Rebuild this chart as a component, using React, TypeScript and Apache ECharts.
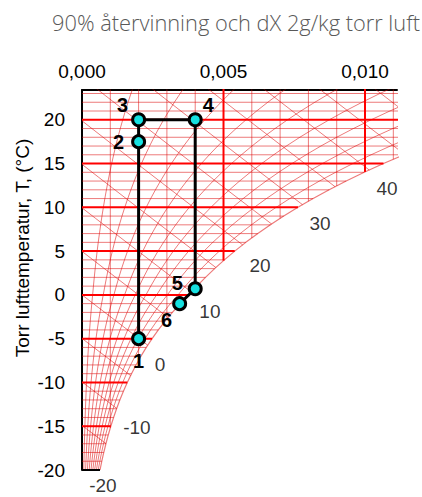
import React, { useEffect, useRef } from "react";
import * as echarts from "echarts";

// Saturation humidity ratio (kg/kg dry air) along the 100 % curve, per °C
const TEMPS = [-20, -19, -18, -17, -16, -15, -14, -13, -12, -11, -10, -9, -8, -7, -6, -5, -4, -3, -2, -1,
  0, 1, 2, 3, 4, 5, 6, 7, 8, 9, 10, 11, 12, 13, 14, 15, 16, 17, 18, 19, 20, 21, 22, 23, 24];
const SAT_X = [0.000636, 0.0007, 0.000769, 0.000845, 0.000927, 0.001018, 0.001116, 0.001222, 0.001337, 0.001463,
  0.0016, 0.001749, 0.001909, 0.002084, 0.002272, 0.002477, 0.002697, 0.002936, 0.003194, 0.003472,
  0.003775, 0.00406, 0.004363, 0.004686, 0.00503, 0.005397, 0.005788, 0.006212, 0.006657, 0.007128,
  0.007631, 0.008166, 0.008733, 0.009334, 0.009973, 0.010652, 0.01137, 0.012127, 0.012934, 0.013792,
  0.014698, 0.015657, 0.016672, 0.017742, 0.01888];

const RH_LEVELS = [0.1, 0.2, 0.3, 0.4, 0.5, 0.6, 0.7, 0.8, 0.9];
const ENTHALPY_LEVELS = [-20, -15, -10, -5, 0, 5, 10, 15, 20, 25, 30, 35, 40, 45, 50];
const MOISTURE_GRID = [0.001, 0.002, 0.003, 0.004, 0.005, 0.006, 0.007, 0.008, 0.009, 0.01, 0.011];
const THICK_TEMPS = [-15, -10, -5, 0, 5, 10, 15, 20];
const THICK_MOISTURE = [0.005, 0.01];

const ENTHALPY_LABEL_TEXT = ["40", "30", "20", "10", "0", "-10", "-20"];
const ENTHALPY_LABEL_X = [0.01078, 0.00841, 0.00629, 0.00452, 0.00276, 0.00194, 0.00074];
const ENTHALPY_LABEL_T = [12.1, 8.2, 3.4, -1.9, -8.0, -15.2, -21.8];

const PROCESS_NAMES = ["1", "2", "3", "4", "5", "6"];
const PROCESS_X = [0.002, 0.002, 0.002, 0.004, 0.004, 0.00345];
const PROCESS_T = [-5, 17.5, 20, 20, 0.7, -1];

const X_MIN = 0;
const X_MAX = 0.01113;
const T_MIN = -20;
const T_MAX = 23.4;
const P_ATM = 101325;

const TITLE = "90% återvinning och dX 2g/kg torr luft";
const Y_TITLE = "Torr lufttemperatur, T, (°C)";

const FONT = "'Liberation Sans', Arial, sans-serif";
const THIN = "rgba(220,0,0,0.52)";
const THICK = "#ff0000";

function satXAt(t: number) {
  const i = Math.max(0, Math.min(TEMPS.length - 2, Math.floor(t - TEMPS[0])));
  const f = t - TEMPS[i];
  return SAT_X[i] + f * (SAT_X[i + 1] - SAT_X[i]);
}
function tAtSatX(x: number) {
  let i = 0;
  while (i < SAT_X.length - 2 && SAT_X[i + 1] < x) i++;
  const f = (x - SAT_X[i]) / (SAT_X[i + 1] - SAT_X[i]);
  return TEMPS[i] + f;
}
function enth(t: number, x: number) {
  return 1.006 * t + x * (2501 + 1.86 * t);
}

function lineSeries(points: number[][], color: string, width: number, z = 1): any {
  return {
    type: "line",
    data: points,
    symbol: "none",
    silent: true,
    clip: true,
    lineStyle: { color, width },
    z,
  };
}

function buildSeries() {
  const series: any[] = [];
  TEMPS.forEach((t) => {
    if (t <= T_MIN || t > T_MAX) return;
    const thick = THICK_TEMPS.includes(t);
    series.push(lineSeries([[0, t], [satXAt(t), t]], thick ? THICK : THIN, thick ? 2 : 1, thick ? 3 : 1));
  });
  MOISTURE_GRID.forEach((x) => {
    const thick = THICK_MOISTURE.some((v) => Math.abs(v - x) < 1e-9);
    series.push(lineSeries([[x, T_MAX + 1], [x, tAtSatX(x)]], thick ? THICK : THIN, thick ? 2 : 1, thick ? 3 : 1));
  });
  RH_LEVELS.forEach((phi) => {
    const pts = TEMPS.map((t, i) => {
      const ps = (P_ATM * SAT_X[i]) / (0.622 + SAT_X[i]);
      return [(0.622 * phi * ps) / (P_ATM - phi * ps), t];
    });
    series.push(lineSeries(pts, THIN, 1));
  });
  series.push(lineSeries(TEMPS.map((t, i) => [SAT_X[i], t]), THIN, 1.2));
  ENTHALPY_LEVELS.forEach((h) => {
    const hs = TEMPS.map((t, i) => enth(t, SAT_X[i]));
    let i = 0;
    while (i < hs.length - 2 && hs[i + 1] < h) i++;
    const f = (h - hs[i]) / (hs[i + 1] - hs[i]);
    const xEnd = SAT_X[i] + f * (SAT_X[i + 1] - SAT_X[i]);
    const pts: number[][] = [];
    for (let k = 0; k <= 8; k++) {
      const x = (xEnd * k) / 8;
      pts.push([x, (h - 2501 * x) / (1.006 + 1.86 * x)]);
    }
    series.push(lineSeries(pts, THIN, 1));
  });
  series.push(lineSeries([[0, T_MIN], [SAT_X[0], T_MIN]], "#000", 2, 5));

  series.push({
    type: "scatter",
    silent: true,
    clip: false,
    symbolSize: 1,
    itemStyle: { color: "rgba(0,0,0,0)" },
    data: ENTHALPY_LABEL_TEXT.map((s, i) => ({ value: [ENTHALPY_LABEL_X[i], ENTHALPY_LABEL_T[i]], name: s })),
    label: {
      show: true,
      position: "inside",
      formatter: (p: any) => p.name,
      color: "#000",
      fontSize: 19,
      fontFamily: FONT,
    },
    z: 6,
  });

  const offsets: Record<string, number[]> = {
    "1": [0, 22],
    "2": [-20, 0],
    "3": [-16, -15],
    "4": [13, -15],
    "5": [-18, -6],
    "6": [-13, 16],
  };
  series.push({
    type: "line",
    silent: true,
    data: PROCESS_NAMES.map((n, i) => ({
      value: [PROCESS_X[i], PROCESS_T[i]],
      name: n,
      label: { offset: offsets[n] },
    })),
    symbol: "circle",
    symbolSize: 12,
    lineStyle: { color: "#000", width: 3 },
    itemStyle: { color: "#16e0e0", borderColor: "#000", borderWidth: 3 },
    label: {
      show: true,
      position: "inside",
      formatter: (p: any) => p.name,
      color: "#000",
      fontSize: 20,
      fontWeight: "bold",
      fontFamily: FONT,
    },
    z: 10,
  });
  return series;
}

export default function App() {
  const ref = useRef<HTMLDivElement>(null);
  useEffect(() => {
    if (!ref.current) return;
    const chart = echarts.init(ref.current, undefined, { renderer: "svg" });
    chart.setOption({
      animation: false,
      backgroundColor: "#fff",
      grid: { left: 82, top: 90, right: 25, bottom: 27, containLabel: false },
      xAxis: {
        type: "value",
        position: "top",
        min: X_MIN,
        max: X_MAX,
        interval: 0.005,
        axisLine: { show: true, onZero: false, lineStyle: { color: "#000", width: 2 } },
        axisTick: { show: false },
        splitLine: { show: false },
        axisLabel: {
          showMaxLabel: false,
          margin: 9,
          fontSize: 19,
          fontFamily: FONT,
          color: "#000",
          formatter: (v: number) => v.toFixed(3).replace(".", ","),
        },
      },
      yAxis: {
        type: "value",
        min: T_MIN,
        max: T_MAX,
        interval: 5,
        axisLine: { show: true, onZero: false, lineStyle: { color: "#000", width: 2 } },
        axisTick: { show: false },
        splitLine: { show: false },
        axisLabel: {
          showMaxLabel: false,
          margin: 17,
          fontSize: 19,
          fontFamily: FONT,
          color: "#000",
        },
      },
      graphic: [
        {
          type: "text",
          x: 52,
          y: 22,
          style: {
            text: TITLE,
            fontSize: 21.8,
            fontFamily: "'Open Sans', sans-serif",
            fontWeight: 300,
            fill: "#595959",
            align: "left",
            verticalAlign: "middle",
          },
        },
        {
          type: "text",
          x: 22,
          y: 248,
          rotation: Math.PI / 2,
          style: {
            text: Y_TITLE,
            fontSize: 19,
            fontFamily: FONT,
            fill: "#000",
            align: "center",
            verticalAlign: "middle",
          },
        },
      ],
      series: buildSeries(),
    });
    return () => chart.dispose();
  }, []);
  return <div ref={ref} style={{ width: 422, height: 497, position: "absolute", left: 0, top: 0 }} />;
}
